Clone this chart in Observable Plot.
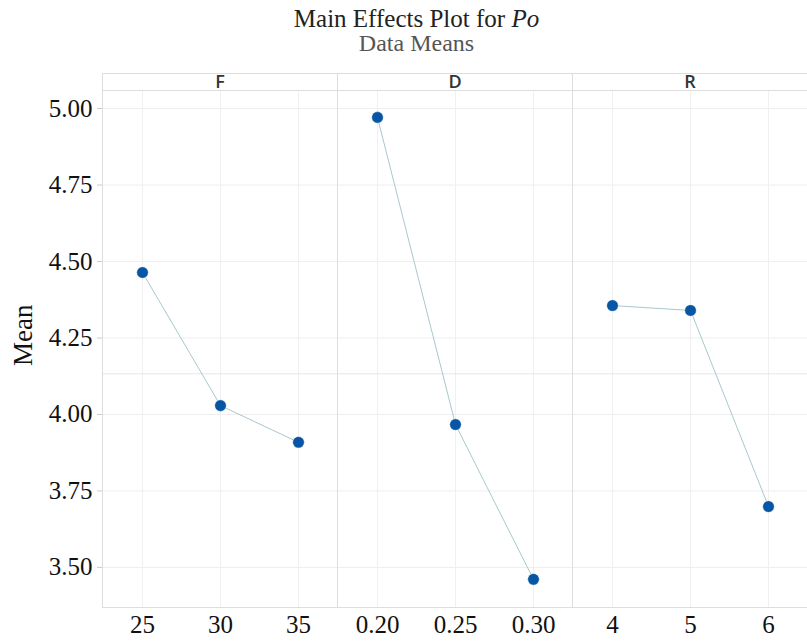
<!DOCTYPE html>
<html>
<head>
<meta charset="utf-8">
<script src="https://cdn.jsdelivr.net/npm/d3@7"></script>
<script src="https://cdn.jsdelivr.net/npm/@observablehq/plot@0.6"></script>
<style>
  html, body { margin: 0; padding: 0; background: white; }
  #head { height: 60px; box-sizing: border-box; padding-top: 7px; padding-left: 26px; text-align: center; font-family: "Liberation Serif", serif; }
  #title { font-size: 25px; line-height: 24px; color: #222; }
  #subtitle { font-size: 24px; line-height: 24px; color: #555; }
  #chart svg { display: block; }
</style>
</head>
<body>
<div id="head">
  <div id="title">Main Effects Plot for <i>Po</i></div>
  <div id="subtitle">Data Means</div>
</div>
<div id="chart"></div>
<script>
// Factors and their levels
const factors = ["F", "D", "R"];
const levelsF = ["25", "30", "35"];
const levelsD = ["0.20", "0.25", "0.30"];
const levelsR = ["4", "5", "6"];
// Mean response at each level
const meansF = [4.464, 4.029, 3.909];
const meansD = [4.971, 3.967, 3.461];
const meansR = [4.356, 4.340, 3.699];
const yTicks = [3.50, 3.75, 4.00, 4.25, 4.50, 4.75, 5.00];
const yLabel = "Mean";

const levels = {F: levelsF, D: levelsD, R: levelsR};
const means = {F: meansF, D: meansD, R: meansR};
const rows = factors.flatMap(f => levels[f].map((lv, i) => ({factor: f, idx: i, level: lv, mean: means[f][i]})));
const grandMean = d3.mean(rows, d => d.mean);
const strips = factors.map(f => ({factor: f}));

const plot = Plot.plot({
  width: 807,
  height: 582,
  marginTop: 30,
  marginBottom: 35,
  marginLeft: 101,
  marginRight: 0,
  style: {fontFamily: "Liberation Serif", fontSize: "25px", color: "#111", background: "white", overflow: "visible"},
  fx: {domain: factors, padding: 0, axis: null},
  x: {type: "point", domain: [0, 1, 2], padding: 0.5, axis: null},
  y: {domain: [3.369, 5.059]},
  marks: [
    Plot.gridY(yTicks, {stroke: "#eeeeee", strokeOpacity: 1}),
    Plot.gridX([0, 1, 2], {stroke: "#f0f0f0", strokeOpacity: 1}),
    Plot.ruleY([grandMean], {stroke: "#e6e6e6", strokeWidth: 1}),
    Plot.frame({stroke: "#dddddd", insetTop: -17}),
    Plot.frame({stroke: "#dddddd"}),
    Plot.axisY(yTicks, {
      tickFormat: ".2f", tickSize: 5, tickPadding: 5, stroke: "#cccccc", fill: "#111",
      label: null, fontSize: 25
    }),
    Plot.text([{factor: "F", label: yLabel}], {fx: "factor", text: "label", frameAnchor: "left",
      rotate: -90, dx: -79, dy: 17, fontSize: 27, fill: "#111"}),
    Plot.text(strips, {fx: "factor", text: "factor", frameAnchor: "top", lineAnchor: "middle", dy: -8,
      fontFamily: "Open Sans", fontWeight: 600, fontSize: 18, fill: "#333"}),
    Plot.text(rows, {fx: "factor", x: "idx", text: "level", frameAnchor: "bottom", lineAnchor: "top", dy: 8, fill: "#111", fontSize: 25}),
    Plot.line(rows, {fx: "factor", x: "idx", y: "mean", z: "factor", stroke: "#a9c7cd", strokeWidth: 1}),
    Plot.dot(rows, {fx: "factor", x: "idx", y: "mean", r: 5.8, fill: "#0755a5", stroke: "white", strokeWidth: 0.5})
  ]
});
document.getElementById("chart").appendChild(plot);
</script>
</body>
</html>
